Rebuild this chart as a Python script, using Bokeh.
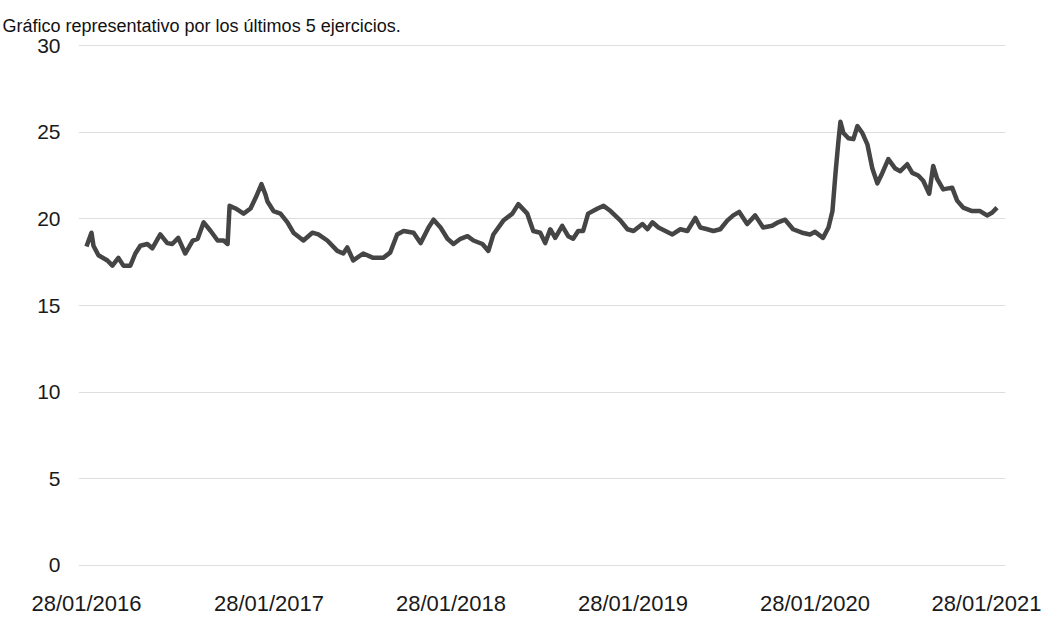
from datetime import datetime
import pandas as pd
from bokeh.plotting import figure
from bokeh.models import Range1d, FixedTicker, DatetimeTickFormatter
from bokeh.embed import file_html
from bokeh.resources import INLINE

title_text = "Gráfico representativo por los últimos 5 ejercicios."

dates = [
    "2016-01-28", "2016-02-07", "2016-02-11", "2016-02-21", "2016-03-10", "2016-03-20",
    "2016-04-01", "2016-04-11", "2016-04-25", "2016-05-05", "2016-05-15", "2016-05-29",
    "2016-06-08", "2016-06-24", "2016-07-08", "2016-07-18", "2016-07-30", "2016-08-13",
    "2016-08-28", "2016-09-07", "2016-09-19", "2016-10-03", "2016-10-17", "2016-10-29",
    "2016-11-06", "2016-11-10", "2016-11-22", "2016-12-08", "2016-12-22", "2017-01-01",
    "2017-01-13", "2017-01-21", "2017-01-25", "2017-02-06", "2017-02-20", "2017-03-06",
    "2017-03-18", "2017-04-07", "2017-04-25", "2017-05-07", "2017-05-25", "2017-06-14",
    "2017-06-26", "2017-07-04", "2017-07-16", "2017-08-05", "2017-08-25", "2017-09-14",
    "2017-09-28", "2017-10-12", "2017-10-25", "2017-11-14", "2017-11-28", "2017-12-14",
    "2017-12-24", "2018-01-07", "2018-01-21", "2018-02-02", "2018-02-16", "2018-03-02",
    "2018-03-14", "2018-04-01", "2018-04-13", "2018-04-23", "2018-05-13", "2018-05-31",
    "2018-06-12", "2018-06-30", "2018-07-12", "2018-07-26", "2018-08-05", "2018-08-15",
    "2018-08-25", "2018-09-08", "2018-09-20", "2018-09-30", "2018-10-10", "2018-10-20",
    "2018-10-30", "2018-11-18", "2018-11-30", "2018-12-14", "2019-01-03", "2019-01-17",
    "2019-01-29", "2019-02-16", "2019-02-26", "2019-03-08", "2019-03-20", "2019-04-03",
    "2019-04-17", "2019-05-03", "2019-05-17", "2019-06-02", "2019-06-12", "2019-06-26",
    "2019-07-08", "2019-07-22", "2019-08-05", "2019-08-17", "2019-08-29", "2019-09-14",
    "2019-09-30", "2019-10-16", "2019-11-03", "2019-11-15", "2019-11-29", "2019-12-15",
    "2020-01-02", "2020-01-18", "2020-01-28", "2020-02-13", "2020-02-24", "2020-03-03",
    "2020-03-09", "2020-03-15", "2020-03-19", "2020-03-25", "2020-04-04", "2020-04-14",
    "2020-04-22", "2020-05-02", "2020-05-12", "2020-05-22", "2020-06-01", "2020-06-11",
    "2020-06-23", "2020-07-07", "2020-07-17", "2020-07-31", "2020-08-10", "2020-08-22",
    "2020-09-01", "2020-09-13", "2020-09-21", "2020-09-29", "2020-10-11", "2020-10-29",
    "2020-11-08", "2020-11-20", "2020-12-08", "2020-12-24", "2021-01-07", "2021-01-17",
    "2021-01-27",
]

values = [
    18.4, 19.2, 18.45, 17.9, 17.6, 17.3,
    17.75, 17.3, 17.3, 18.0, 18.45, 18.55,
    18.3, 19.1, 18.6, 18.55, 18.9, 18.0,
    18.75, 18.85, 19.8, 19.3, 18.75, 18.75,
    18.55, 20.75, 20.6, 20.3, 20.6, 21.2,
    22.0, 21.4, 21.0, 20.45, 20.3, 19.8,
    19.2, 18.75, 19.2, 19.1, 18.75, 18.15,
    18.0, 18.35, 17.6, 18.0, 17.75, 17.75,
    18.05, 19.1, 19.3, 19.2, 18.6, 19.5,
    19.95, 19.5, 18.85, 18.55, 18.85, 19.0,
    18.75, 18.55, 18.15, 19.1, 19.9, 20.3,
    20.85, 20.3, 19.3, 19.2, 18.6, 19.4,
    18.9, 19.6, 19.0, 18.85, 19.3, 19.3,
    20.3, 20.6, 20.75, 20.45, 19.9, 19.4,
    19.3, 19.7, 19.4, 19.8, 19.5, 19.3,
    19.1, 19.4, 19.3, 20.05, 19.5, 19.4,
    19.3, 19.4, 19.9, 20.2, 20.4, 19.7,
    20.2, 19.5, 19.6, 19.8, 19.95, 19.4,
    19.2, 19.1, 19.25, 18.9, 19.5, 20.45,
    22.6, 24.5, 25.6, 24.95, 24.65, 24.6,
    25.35, 24.95, 24.3, 22.9, 22.05, 22.65,
    23.45, 22.9, 22.75, 23.15, 22.65, 22.5,
    22.2, 21.45, 23.05, 22.3, 21.7, 21.8,
    21.05, 20.65, 20.45, 20.45, 20.2, 20.35,
    20.65,
]

tick_dates = ["2016-01-28", "2017-01-28", "2018-01-28", "2019-01-28", "2020-01-28", "2021-01-28"]
y_ticks = [0, 5, 10, 15, 20, 25, 30]

x = pd.to_datetime(dates)
ticks_ms = [pd.Timestamp(d).value // 10**6 for d in tick_dates]

p = figure(
    x_axis_type="datetime",
    frame_width=927, frame_height=522,
    min_border_left=78, min_border_right=36, min_border_top=44, min_border_bottom=52,
    x_range=Range1d(datetime(2016, 1, 12), datetime(2021, 2, 13)),
    y_range=Range1d(-0.06, 30.06),
    output_backend="svg", toolbar_location=None,
)
p.outline_line_color = None
p.background_fill_color = "white"
p.border_fill_color = "white"

p.title.text = title_text
p.title.align = "left"
p.title.offset = -76
p.title.standoff = 18
p.title.text_font = "Liberation Sans"
p.title.text_font_size = "18px"
p.title.text_font_style = "normal"
p.title.text_color = "#111111"

p.line(x, values, line_color="#454545", line_width=4.5, line_join="round")

p.xgrid.grid_line_color = None
p.ygrid.grid_line_color = "#dedede"
p.ygrid.grid_line_width = 1
p.ygrid.ticker = FixedTicker(ticks=y_ticks)

p.yaxis.ticker = FixedTicker(ticks=y_ticks)
p.xaxis.ticker = FixedTicker(ticks=ticks_ms)
fmt = "%d/%m/%Y"
p.xaxis.formatter = DatetimeTickFormatter(
    milliseconds=fmt, seconds=fmt, minsec=fmt, minutes=fmt, hourmin=fmt,
    hours=fmt, days=fmt, months=fmt, years=fmt)

for ax in (p.xaxis[0], p.yaxis[0]):
    ax.axis_line_color = None
    ax.major_tick_line_color = None
    ax.minor_tick_line_color = None
    ax.major_label_text_font = "Liberation Sans"
    ax.major_label_text_color = "#1a1a1a"

p.yaxis.major_label_text_font_size = "21px"
p.xaxis.major_label_text_font_size = "22px"
p.yaxis.major_label_standoff = 12
p.xaxis.major_label_standoff = 18

open("out.html", "w").write(file_html(p, INLINE))
